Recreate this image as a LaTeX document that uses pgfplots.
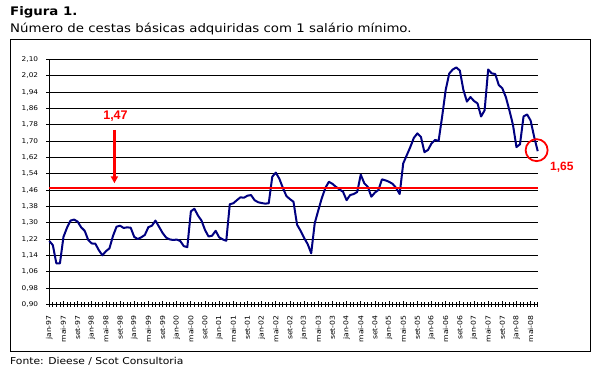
\documentclass[border=0pt]{standalone}
\usepackage{fontspec}
\setmainfont{DejaVu Sans}[FakeStretch=1.13]
\newfontfamily\arialf{Liberation Sans}
\usepackage{pgfplots}
\usepackage{pgfplotstable}
\pgfplotsset{compat=1.18}
\usetikzlibrary{arrows.meta}
\definecolor{navyline}{RGB}{0,0,128}
\pgfplotstableread{
i v
0 1.21
1 1.19
2 1.10
3 1.10
4 1.23
5 1.275
6 1.31
7 1.315
8 1.305
9 1.277
10 1.26
11 1.215
12 1.198
13 1.197
14 1.165
15 1.14
16 1.16
17 1.174
18 1.235
19 1.28
20 1.285
21 1.274
22 1.277
23 1.275
24 1.23
25 1.22
26 1.228
27 1.24
28 1.278
29 1.285
30 1.31
31 1.28
32 1.25
33 1.227
34 1.218
35 1.215
36 1.217
37 1.21
38 1.185
39 1.18
40 1.355
41 1.368
42 1.335
43 1.31
44 1.264
45 1.232
46 1.236
47 1.26
48 1.228
49 1.218
50 1.211
51 1.39
52 1.395
53 1.41
54 1.424
55 1.422
56 1.432
57 1.435
58 1.41
59 1.40
60 1.396
61 1.393
62 1.395
63 1.525
64 1.545
65 1.515
66 1.47
67 1.43
68 1.415
69 1.402
70 1.29
71 1.26
72 1.225
73 1.195
74 1.15
75 1.297
76 1.36
77 1.42
78 1.47
79 1.50
80 1.49
81 1.475
82 1.463
83 1.451
84 1.41
85 1.435
86 1.44
87 1.45
88 1.535
89 1.493
90 1.475
91 1.427
92 1.447
93 1.46
94 1.512
95 1.507
96 1.50
97 1.49
98 1.47
99 1.44
100 1.59
101 1.63
102 1.67
103 1.715
104 1.737
105 1.72
106 1.645
107 1.656
108 1.688
109 1.705
110 1.70
111 1.82
112 1.95
113 2.03
114 2.05
115 2.06
116 2.045
117 1.95
118 1.893
119 1.915
120 1.896
121 1.884
122 1.82
123 1.85
124 2.05
125 2.031
126 2.028
127 1.974
128 1.958
129 1.915
130 1.85
131 1.78
132 1.67
133 1.684
134 1.82
135 1.83
136 1.80
137 1.72
138 1.65
}\cestas
\begin{document}
\begin{tikzpicture}
\path[use as bounding box] (-49.3bp,-66.7bp) rectangle (549.7bp,304.3bp);
\draw[line width=0.9bp] (-39.3bp,265.3bp) rectangle (540.7bp,-46.7bp);
\node[anchor=base west, inner sep=0pt, font=\fontsize{11.8bp}{14bp}\selectfont\bfseries] at (-39.3bp,288.3bp) {Figura 1.};
\node[anchor=base west, inner sep=0pt, font=\fontsize{11.8bp}{14bp}\selectfont] at (-39.3bp,272bp) {Número de cestas básicas adquiridas com 1 salário mínimo.};
\node[anchor=base west, inner sep=0pt, font=\fontsize{9.5bp}{11bp}\selectfont] at (-39.3bp,-59.7bp) {Fonte: Dieese / Scot Consultoria};
\begin{axis}[
  at={(0,0)}, anchor=south west,
  scale only axis, width=488.4bp, height=245bp,
  xmin=0, xmax=138, ymin=0.90, ymax=2.10,
  clip=false,
  axis x line*=bottom, axis y line*=left,
  axis line style={black, line width=0.9bp},
  tick style={black, line width=0.8bp},
  tick align=center,
  major tick length=6bp, minor tick length=5bp,
  ytick={0.90,0.98,1.06,1.14,1.22,1.30,1.38,1.46,1.54,1.62,1.70,1.78,1.86,1.94,2.02,2.10},
  ymajorgrids, major grid style={black, line width=0.8bp},
  xtick={0,4,...,136},
  minor xtick={0,1,...,138},
  xticklabels={jan-97,mai-97,set-97,jan-98,mai-98,set-98,jan-99,mai-99,set-99,jan-00,mai-00,set-00,jan-01,mai-01,set-01,jan-02,mai-02,set-02,jan-03,mai-03,set-03,jan-04,mai-04,set-04,jan-05,mai-05,set-05,jan-06,mai-06,set-06,jan-07,mai-07,set-07,jan-08,mai-08},
  xticklabel style={font=\fontsize{6.8bp}{7bp}\selectfont, rotate=90, anchor=east, inner sep=0pt},
  xticklabel shift=8bp,
  yticklabel style={font=\fontsize{6.5bp}{7bp}\selectfont, anchor=east, inner sep=0pt,
    /pgf/number format/.cd, fixed, fixed zerofill, precision=2, use comma, assume math mode=true},
  yticklabel shift=8bp,
]
\addplot[color=navyline, line width=2bp, line join=round] table[x=i,y=v]{\cestas};
\addplot[red, line width=2.4bp] coordinates {(0,1.47) (138,1.47)};
\addplot[red, line width=2.2bp, -{Triangle[width=7bp,length=7bp]}] coordinates {(18.4,1.754) (18.4,1.4926)};
\addplot[red, only marks, mark=o, mark size=11bp, mark options={line width=1.8bp}] coordinates {(137.7,1.655)};
\node[red, font=\arialf\bfseries\fontsize{12.5bp}{14bp}\selectfont, inner sep=0pt] at (axis cs:18.7,1.822) {1,47};
\node[red, font=\arialf\bfseries\fontsize{12bp}{14bp}\selectfont, inner sep=0pt] at (axis cs:144.8,1.572) {1,65};
\end{axis}
\end{tikzpicture}
\end{document}
